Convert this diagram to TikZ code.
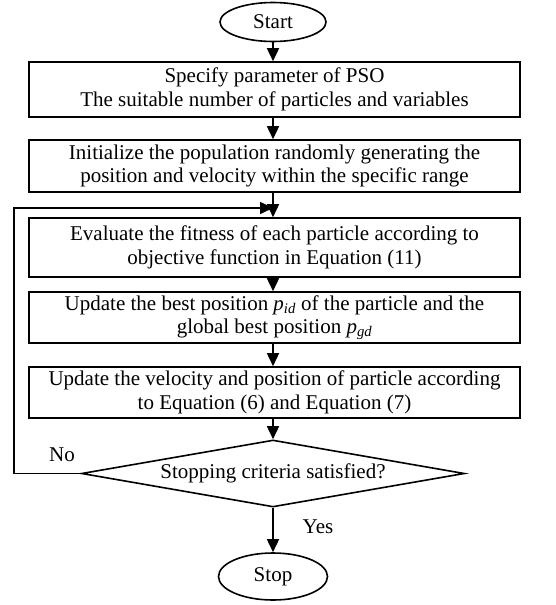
\documentclass[tikz,border=0pt]{standalone}
\usepackage{fontspec}
\setmainfont{Liberation Serif}
\usetikzlibrary{shapes.geometric,arrows.meta}
\begin{document}
\begin{tikzpicture}[x=1pt,y=-1pt,
  every node/.style={font=\fontsize{21}{23.5}\selectfont, line width=1.6pt},
  box/.style={draw, rectangle, minimum width=491pt, inner sep=0pt, align=center},
  term/.style={draw, ellipse, inner sep=0pt},
  dec/.style={draw, diamond, shape aspect=5.716, minimum width=383pt, minimum height=67pt, inner sep=0pt},
  arr/.style={line width=1.6pt, -{Triangle[length=13pt,width=12pt]}},
  ln/.style={line width=1.6pt}]
\useasboundingbox (0,0) rectangle (556,605);
\node[term, minimum width=106pt, minimum height=39pt] (start) at (273,22) {Start};
\node[box, minimum height=55pt] (b1) at (274.5,89.5) {Specify parameter of PSO\\The suitable number of particles and variables};
\node[box, minimum height=52pt] (b2) at (274.5,166) {Initialize the population randomly generating the\\position and velocity within the specific range};
\node[box, minimum height=59pt] (b3) at (274.5,247.5) {Evaluate the fitness of each particle according to\\objective function in Equation (11)};
\node[box, minimum height=51pt] (b4) at (274.5,317.5) {Update the best position \textit{p}\textsubscript{\textit{id}} of the particle and the\\global best position \textit{p}\textsubscript{\textit{gd}}};
\node[box, minimum height=51pt] (b5) at (274.5,392.5) {Update the velocity and position of particle according\\to Equation (6) and Equation (7)};
\node[dec] (d) at (273,473.5) {Stopping criteria satisfied?};
\node[term, minimum width=109pt, minimum height=47pt] (stop) at (273,576.5) {Stop};
\node (no) at (62,455) {No};
\node (yes) at (318,527) {Yes};
\coordinate (c1) at (14,473.5);
\coordinate (c2) at (14,208);
\coordinate (c3) at (273,208);
\draw[arr] (start.south) -- (start.south |- b1.north);
\draw[arr] (start.south |- b1.south) -- (start.south |- b2.north);
\draw[arr] (start.south |- b2.south) -- (start.south |- b3.north);
\draw[arr] (start.south |- b3.south) -- (start.south |- b4.north);
\draw[arr] (start.south |- b4.south) -- (start.south |- b5.north);
\draw[arr] (start.south |- b5.south) -- (d.north);
\draw[arr] (d.south) -- (stop.north);
\draw[arr] (d.west) -- (c1) -- (c2) -- (c3);
\end{tikzpicture}
\end{document}
